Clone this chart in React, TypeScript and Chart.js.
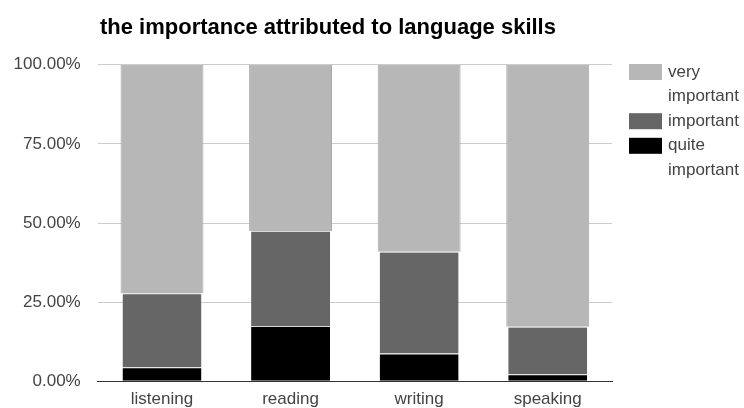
import React, { useEffect, useRef } from "react";
import { Chart, registerables } from "chart.js";

Chart.register(...registerables);

// Skills surveyed and the share of answers (in percent) for each rating
const skills = ["listening", "reading", "writing", "speaking"];
const quiteImportant = [4.4, 17.5, 8.8, 2.2];
const important = [23.4, 30.0, 32.1, 15.0];
const veryImportant = [72.2, 52.5, 59.1, 82.8];
const yTicks = [0, 25, 50, 75, 100];

const titleText = "the importance attributed to language skills";
const FONT = '"Liberation Sans", Arial, Helvetica, sans-serif';

// Draws the title and a right-hand legend whose labels wrap onto several lines
const decorations = {
  id: "decorations",
  afterDraw(chart: any) {
    const ctx = chart.ctx as CanvasRenderingContext2D;
    ctx.save();
    ctx.fillStyle = "#000";
    ctx.font = `bold 22px ${FONT}`;
    ctx.textBaseline = "alphabetic";
    ctx.textAlign = "left";
    ctx.fillText(titleText, 100, 33.5);

    const swatchX = chart.chartArea.right + 17;
    const textX = swatchX + 39;
    const maxW = chart.width - textX;
    const lineH = 24.6;
    let y = 72;
    ctx.font = `17px ${FONT}`;
    ctx.textBaseline = "middle";
    const sets = chart.data.datasets.slice().reverse();
    for (const ds of sets) {
      const words = String(ds.label).split(" ");
      const lines: string[] = [];
      let cur = "";
      for (const w of words) {
        const test = cur ? cur + " " + w : w;
        if (cur && ctx.measureText(test).width > maxW) {
          lines.push(cur);
          cur = w;
        } else {
          cur = test;
        }
      }
      if (cur) lines.push(cur);
      ctx.fillStyle = ds.backgroundColor;
      ctx.fillRect(swatchX, y - 8, 33, 16);
      ctx.fillStyle = "#444";
      lines.forEach((ln, i) => ctx.fillText(ln, textX, y + i * lineH));
      y += lines.length * lineH;
    }
    ctx.restore();
  },
};

export default function App() {
  const canvasRef = useRef<HTMLCanvasElement | null>(null);

  useEffect(() => {
    if (!canvasRef.current) return;
    const chart = new Chart(canvasRef.current, {
      type: "bar",
      data: {
        labels: skills,
        datasets: [
          {
            label: "quite important",
            data: quiteImportant,
            backgroundColor: "#000000",
            borderColor: "#d8d8d8",
            borderWidth: { top: 1, left: 0, right: 0, bottom: 0 },
            borderSkipped: false,
          },
          {
            label: "important",
            data: important,
            backgroundColor: "#666666",
            borderColor: "#d8d8d8",
            borderWidth: { top: 1, left: 0, right: 0, bottom: 0 },
            borderSkipped: false,
          },
          {
            label: "very important",
            data: veryImportant,
            backgroundColor: "#b7b7b7",
            borderColor: "#a9a9a9",
            borderWidth: 1,
            borderSkipped: "bottom",
            barPercentage: 0.645,
          },
        ],
      },
      options: {
        animation: false,
        responsive: false,
        maintainAspectRatio: false,
        layout: { padding: { left: 13, right: 132, top: 64.7, bottom: 0 } },
        datasets: { bar: { categoryPercentage: 1, barPercentage: 0.614 } },
        plugins: {
          legend: { display: false },
          title: { display: false },
          tooltip: { enabled: false },
        },
        scales: {
          x: {
            stacked: true,
            grid: { display: false, drawTicks: false },
            border: { display: true, color: "#333", width: 1 },
            ticks: { color: "#444", font: { family: FONT, size: 17 }, padding: 8 },
            afterFit: (axis: any) => {
              axis.paddingLeft = 0;
              axis.paddingRight = 0;
              axis.height = 26.7;
            },
          },
          y: {
            stacked: true,
            min: 0,
            max: 100,
            afterBuildTicks: (axis: any) => {
              axis.ticks = yTicks.map((v) => ({ value: v }));
            },
            grid: {
              color: (c: any) => (c.tick && c.tick.value === 0 ? "rgba(0,0,0,0)" : "#cccccc"),
              drawTicks: false,
            },
            border: { display: false },
            ticks: {
              color: "#444",
              font: { family: FONT, size: 17 },
              padding: 17,
              callback: (v: any) => `${Number(v).toFixed(2)}%`,
            },
            afterFit: (axis: any) => {
              axis.paddingTop = 0;
              axis.paddingBottom = 0;
              axis.width = 84.7;
            },
          },
        },
      },
      plugins: [decorations],
    });
    return () => chart.destroy();
  }, []);

  return (
    <div style={{ position: "fixed", left: 0, top: 0, width: 744, height: 408, background: "#fff" }}>
      <canvas ref={canvasRef} width={744} height={408} />
    </div>
  );
}
